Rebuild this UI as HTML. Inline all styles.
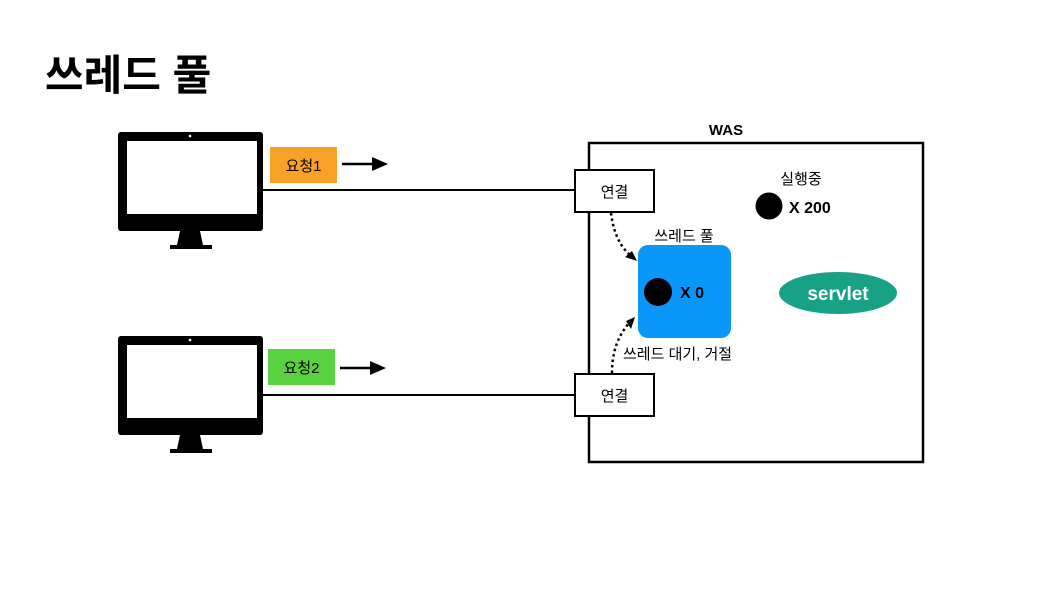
<!DOCTYPE html>
<html><head><meta charset="utf-8"><style>
body{margin:0;background:#fff;}
svg text{font-family:"Liberation Sans","Noto Sans CJK KR",sans-serif;}
</style></head><body>
<svg width="1044" height="592" viewBox="0 0 1044 592" xmlns="http://www.w3.org/2000/svg">
<text x="45" y="90" font-size="42" font-weight="bold" fill="#000">쓰레드 풀</text>
<!-- monitor 1 -->
<g id="mon">
<rect x="118" y="132" width="145" height="99" rx="3" fill="#000"/>
<rect x="127" y="141" width="130" height="73" fill="#fff"/>
<circle cx="190" cy="136" r="1.3" fill="#fff"/>
<polygon points="180,231 200,231 203,245 177,245" fill="#000"/>
<rect x="170" y="245" width="42" height="4" fill="#000"/>
</g>
<use href="#mon" y="204"/>
<rect x="270" y="147" width="67" height="36" fill="#f7a128"/>
<text x="303.5" y="171" font-size="15" text-anchor="middle">요청1</text>
<rect x="268" y="349" width="67" height="36" fill="#5ad13f"/>
<text x="301.5" y="373" font-size="15" text-anchor="middle">요청2</text>
<g stroke="#000" stroke-width="2.5"><line x1="342" y1="164" x2="376" y2="164"/><line x1="340" y1="368" x2="374" y2="368"/></g>
<polygon points="372,157 388,164 372,171" fill="#000"/>
<polygon points="370,361 386,368 370,375" fill="#000"/>
<line x1="263" y1="190" x2="575" y2="190" stroke="#000" stroke-width="2"/>
<line x1="263" y1="395" x2="575" y2="395" stroke="#000" stroke-width="2"/>
<rect x="589" y="143" width="334" height="319" fill="none" stroke="#000" stroke-width="2.5"/>
<text x="726" y="135" font-size="15" font-weight="bold" text-anchor="middle">WAS</text>
<rect x="575" y="170" width="79" height="42" fill="#fff" stroke="#000" stroke-width="2"/>
<text x="614.5" y="197" font-size="15" text-anchor="middle">연결</text>
<rect x="575" y="374" width="79" height="42" fill="#fff" stroke="#000" stroke-width="2"/>
<text x="614.5" y="401" font-size="15" text-anchor="middle">연결</text>
<path d="M611 213 Q615 245 634 258" fill="none" stroke="#000" stroke-width="2.5" stroke-dasharray="2.5,3"/>
<polygon points="637,261 625,257 632,251" fill="#000"/>
<path d="M612 373 Q612 340 632 320" fill="none" stroke="#000" stroke-width="2.5" stroke-dasharray="2.5,3"/>
<polygon points="635,317 631,329 626,321" fill="#000"/>
<rect x="638" y="245" width="93" height="93" rx="10" fill="#0b97fa"/>
<circle cx="658" cy="292" r="14" fill="#000"/>
<text x="680" y="298" font-size="16" font-weight="bold">X 0</text>
<text x="684" y="241" font-size="15" text-anchor="middle">쓰레드 풀</text>
<text x="623" y="359" font-size="15">쓰레드 대기, 거절</text>
<text x="801" y="184" font-size="15" text-anchor="middle">실행중</text>
<circle cx="769" cy="206" r="13.5" fill="#000"/>
<text x="789" y="213" font-size="16" font-weight="bold">X 200</text>
<ellipse cx="838" cy="293" rx="59" ry="21" fill="#17a185"/>
<text x="838" y="300" font-size="19" font-weight="bold" fill="#fff" text-anchor="middle">servlet</text>
</svg>
</body></html>
